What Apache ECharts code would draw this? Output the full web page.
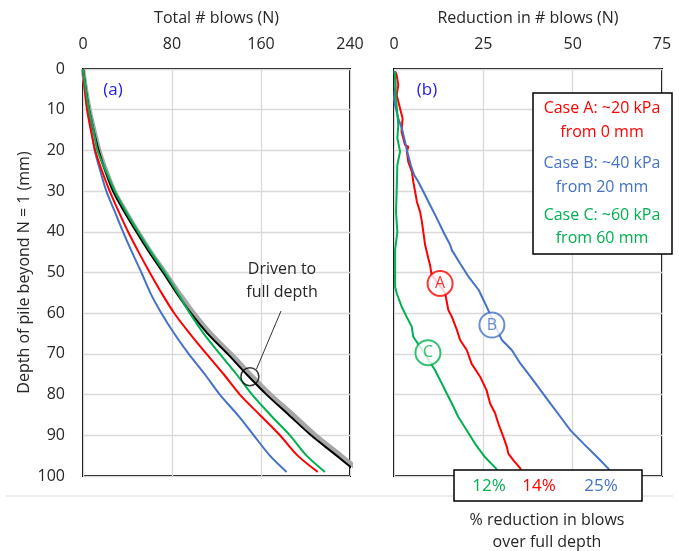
<!DOCTYPE html>
<html><head><meta charset="utf-8">
<script src="https://cdn.jsdelivr.net/npm/echarts@6/dist/echarts.min.js"></script>
<style>html,body{margin:0;padding:0;background:#fff}#c{width:679px;height:551px}</style>
</head><body><div id="c"></div>
<script>
// ---- Panel (a): total blows vs depth ----
const depthA   = [0, 5, 10, 15, 20, 25, 30, 35, 40, 45, 50, 55, 60, 65, 70, 75, 80, 85, 90, 95, 99];
const fullDrv  = [0, 2.5, 5.5, 9.5, 14, 20, 27, 37, 48, 59.5, 72, 84, 97, 112, 130, 147, 165, 185, 205, 228, 246];
const greyRef  = [0, 2.6, 5.8, 10, 14.5, 20.8, 28.2, 38.3, 49.3, 61, 73.8, 86.3, 99.5, 114.8, 133, 150.3, 168.5, 189, 209, 232, 250];
const caseA_N  = [0, 1.5, 3.6, 7, 11, 17, 24, 32, 40.5, 50, 60, 70.5, 82, 96, 111, 126.5, 141, 159, 177, 193, 211];
const caseB_N  = [0, 2, 4.5, 7.5, 10.5, 15.5, 21, 28.5, 36, 44, 52.5, 60.5, 70.5, 82, 95, 109.5, 123, 139, 153.5, 168, 183];
const caseC_N  = [0, 2.5, 5.4, 9.5, 13, 20.5, 28.5, 38.5, 49.5, 61, 73.5, 85, 96, 108.5, 123, 138, 152, 168.5, 186, 201, 217.5];

// ---- Panel (b): reduction in blows vs depth ----
const redA_depth = [0.5, 1.5, 3.9, 6.4, 9.7, 12.1, 15.4, 18.7, 19.1, 20.3, 22.8, 25.2, 27.7, 30.1, 32.6, 35.1, 37.5, 40, 43.2, 46.5, 48.2, 50.5, 55, 59.2, 60.9, 64.1, 66.6, 69.1, 72.4, 75.6, 78.9, 82.2, 84.6, 87.1, 90.4, 92.9, 94.5, 96.2, 98.2, 99];
const redA_val   = [0.3, 0.75, 1.2, 0.75, 1.7, 2.4, 2.1, 3.1, 4.0, 3.6, 4.0, 5.0, 5.4, 5.9, 6.4, 7.3, 7.8, 8.2, 8.7, 9.6, 10.1, 10.5, 14.3, 15.2, 16.2, 17.6, 18.5, 20.4, 21.7, 24.1, 25.9, 26.9, 28.3, 29.2, 30.6, 31.6, 32.0, 33.5, 35.4, 35.8];
const redB_depth = [0.5, 4, 7.2, 8.8, 12.1, 14.6, 17.9, 20.3, 23.6, 26, 27.7, 30.1, 33.4, 36.7, 40, 43.2, 44.5, 47.8, 51.1, 54.3, 57.6, 62, 66.6, 69.1, 72.4, 75.6, 78.9, 82.2, 85.5, 88.8, 92.1, 95.4, 98.2, 99];
const redB_val   = [0.2, 0.4, 0, 0.28, 1.2, 2.2, 3.1, 3.7, 4.7, 5.6, 6.8, 8.2, 10.1, 12, 13.8, 15.7, 16.2, 18.5, 20.9, 23.7, 25.5, 27.8, 30.2, 33.0, 35.4, 38.2, 41.0, 43.8, 46.6, 49.4, 53.1, 56.9, 60.0, 60.4];
const redC_depth = [0.5, 1.5, 7.2, 13.8, 17, 20.3, 23.6, 30.1, 35.1, 40, 44.5, 49.4, 53.5, 55.1, 58.4, 60.9, 63.3, 65.8, 70, 74, 77.3, 79.8, 82.2, 85.5, 88.8, 92.1, 95.4, 98.2, 99];
const redC_val   = [0.1, 0.28, 0.56, 1.2, 0.94, 1.7, 0.94, 0.75, 0.56, 0.94, 0.3, 0.3, 0.3, 0.75, 2.15, 3.55, 4.96, 5.4, 8.6, 11.5, 13.4, 14.8, 16.2, 18.0, 20.4, 22.7, 25.5, 28.6, 29.0];

// annotation bubbles [reduction, depth]
const bubbleA = [12.9, 52.7];
const bubbleB = [27.4, 62.9];
const bubbleC = [9.5, 69.7];
const fullDepthMark = [150, 75.6];

const pctLabels = ['12%', '14%', '25%'];
const xTicksA = [0, 80, 160, 240];
const xTicksB = [0, 25, 50, 75];

const RED = '#FF0000', BLUE = '#4472C4', GREEN = '#00B050', TXT = '#262626';
const FONT = '"Open Sans"';

const zip = (ys, xs) => ys.map((y, i) => [xs[i], y]);

const chart = echarts.init(document.getElementById('c'), null, {renderer: 'canvas'});

const gridBase = {show: true, borderColor: '#000', borderWidth: 2, backgroundColor: 'transparent', containLabel: false};
const splitL = {show: true, lineStyle: {color: '#D9D9D9', width: 1.3}};
const lbl = {color: TXT, fontSize: 16, fontFamily: FONT};

function xAx(idx, max, interval, name) {
  return {
    gridIndex: idx, type: 'value', position: 'top', min: 0, max: max, interval: interval,
    axisLine: {show: false}, axisTick: {show: false}, splitLine: splitL,
    axisLabel: Object.assign({margin: 17}, lbl),
    name: name, nameLocation: 'middle', nameGap: 43,
    nameTextStyle: {color: TXT, fontSize: 16, fontFamily: FONT}
  };
}
function yAx(idx, showLabels, name) {
  return {
    gridIndex: idx, type: 'value', inverse: true, min: 0, max: 100, interval: 10,
    axisLine: {show: false}, axisTick: {show: false}, splitLine: splitL,
    axisLabel: Object.assign({show: showLabels, margin: 18}, lbl),
    name: name, nameLocation: 'middle', nameGap: 51,
    nameTextStyle: {color: TXT, fontSize: 16, fontFamily: FONT}
  };
}

function lineS(data, color, width, xi, z, smooth) {
  return {type: 'line', xAxisIndex: xi, yAxisIndex: xi, data: data, showSymbol: false, symbol: 'none',
          smooth: smooth || false,
          lineStyle: {color: color, width: width}, z: z || 2, silent: true, animation: false, clip: true};
}

function bubble(pos, letter, color) {
  return {type: 'scatter', xAxisIndex: 1, yAxisIndex: 1, data: [pos], symbol: 'circle', symbolSize: 25,
          itemStyle: {color: '#fff', borderColor: color, borderWidth: 2}, z: 5, silent: true, animation: false,
          label: {show: true, position: 'inside', formatter: letter, color: color, fontSize: 16, fontFamily: FONT}};
}

const option = {
  backgroundColor: '#fff',
  animation: false,
  grid: [
    Object.assign({left: 83, top: 69, width: 267, height: 407}, gridBase),
    Object.assign({left: 394, top: 69, width: 268, height: 407}, gridBase)
  ],
  xAxis: [xAx(0, 240, 80, 'Total # blows (N)'), xAx(1, 75, 25, 'Reduction in # blows (N)')],
  yAxis: [yAx(0, true, 'Depth of pile beyond N = 1 (mm)'), yAx(1, false, '')],
  series: [
    lineS(zip(depthA, greyRef), '#A6A6A6', 4.5, 0, 2, 0.3),
    lineS(zip(depthA, fullDrv), '#000000', 2, 0, 3, 0.3),
    lineS(zip(depthA, caseB_N), BLUE, 2, 0, 3, 0.3),
    lineS(zip(depthA, caseA_N), RED, 2, 0, 3, 0.3),
    lineS(zip(depthA, caseC_N), GREEN, 2, 0, 3, 0.3),
    {type: 'scatter', xAxisIndex: 0, yAxisIndex: 0, data: [fullDepthMark], symbol: 'circle', symbolSize: 18,
     itemStyle: {color: 'rgba(0,0,0,0)', borderColor: '#000', borderWidth: 1.5}, z: 6, silent: true},
    lineS(zip(redA_depth, redA_val), RED, 2, 1, 3),
    lineS(zip(redB_depth, redB_val), BLUE, 2, 1, 3),
    lineS(zip(redC_depth, redC_val), GREEN, 2, 1, 3),
    bubble(bubbleA, 'A', RED),
    bubble(bubbleB, 'B', BLUE),
    bubble(bubbleC, 'C', GREEN)
  ],
  graphic: [
    {type: 'line', shape: {x1: 6, y1: 496, x2: 673, y2: 496}, style: {stroke: '#D9D9D9', lineWidth: 1}, z: 1},
    {type: 'text', x: 113, y: 90, style: {text: '(a)', fill: '#2020F0', fontSize: 17, fontFamily: FONT, align: 'center', verticalAlign: 'middle'}, z: 10},
    {type: 'text', x: 427, y: 90, style: {text: '(b)', fill: '#2020F0', fontSize: 17, fontFamily: FONT, align: 'center', verticalAlign: 'middle'}, z: 10},
    {type: 'line', shape: {x1: 256.5, y1: 369, x2: 281, y2: 311}, style: {stroke: '#333', lineWidth: 1}, z: 10},
    {type: 'text', x: 282, y: 269, style: {text: 'Driven to', fill: TXT, fontSize: 16, fontFamily: FONT, align: 'center', verticalAlign: 'middle'}, z: 10},
    {type: 'text', x: 282, y: 292, style: {text: 'full depth', fill: TXT, fontSize: 16, fontFamily: FONT, align: 'center', verticalAlign: 'middle'}, z: 10},
    // legend box
    {type: 'rect', shape: {x: 533, y: 93, width: 139, height: 161}, style: {fill: '#fff', stroke: '#000', lineWidth: 1.5}, z: 20},
    {type: 'text', x: 602, y: 108, style: {text: 'Case A: ~20 kPa', fill: RED, fontSize: 16, fontFamily: FONT, align: 'center', verticalAlign: 'middle'}, z: 21},
    {type: 'text', x: 602, y: 132, style: {text: 'from 0 mm', fill: RED, fontSize: 16, fontFamily: FONT, align: 'center', verticalAlign: 'middle'}, z: 21},
    {type: 'text', x: 602, y: 163, style: {text: 'Case B: ~40 kPa', fill: BLUE, fontSize: 16, fontFamily: FONT, align: 'center', verticalAlign: 'middle'}, z: 21},
    {type: 'text', x: 602, y: 187, style: {text: 'from 20 mm', fill: BLUE, fontSize: 16, fontFamily: FONT, align: 'center', verticalAlign: 'middle'}, z: 21},
    {type: 'text', x: 602, y: 215, style: {text: 'Case C: ~60 kPa', fill: GREEN, fontSize: 16, fontFamily: FONT, align: 'center', verticalAlign: 'middle'}, z: 21},
    {type: 'text', x: 602, y: 238, style: {text: 'from 60 mm', fill: GREEN, fontSize: 16, fontFamily: FONT, align: 'center', verticalAlign: 'middle'}, z: 21},
    // percentage box
    {type: 'rect', shape: {x: 454, y: 470, width: 188, height: 31}, style: {fill: '#fff', stroke: '#000', lineWidth: 1.5}, z: 20},
    {type: 'text', x: 489, y: 486, style: {text: pctLabels[0], fill: GREEN, fontSize: 17, fontFamily: FONT, align: 'center', verticalAlign: 'middle'}, z: 21},
    {type: 'text', x: 539, y: 486, style: {text: pctLabels[1], fill: RED, fontSize: 17, fontFamily: FONT, align: 'center', verticalAlign: 'middle'}, z: 21},
    {type: 'text', x: 601, y: 486, style: {text: pctLabels[2], fill: BLUE, fontSize: 17, fontFamily: FONT, align: 'center', verticalAlign: 'middle'}, z: 21},
    {type: 'text', x: 547, y: 520, style: {text: '% reduction in blows', fill: TXT, fontSize: 16, fontFamily: FONT, align: 'center', verticalAlign: 'middle'}, z: 21},
    {type: 'text', x: 547, y: 542, style: {text: 'over full depth', fill: TXT, fontSize: 16, fontFamily: FONT, align: 'center', verticalAlign: 'middle'}, z: 21}
  ]
};
chart.setOption(option);
</script>
</body></html>
